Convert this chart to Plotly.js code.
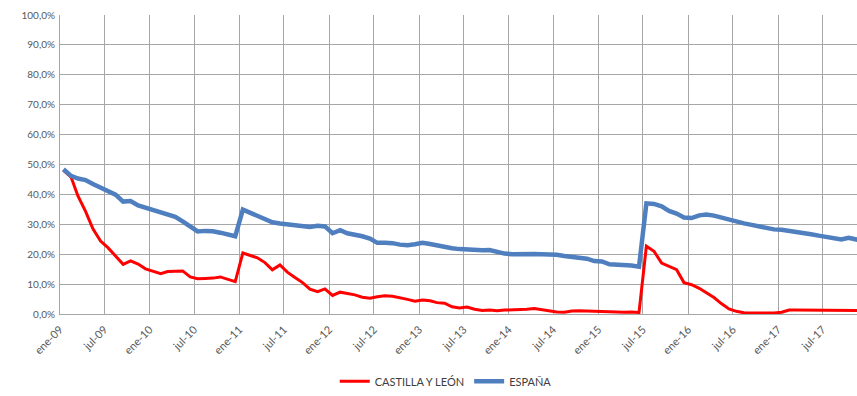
<!DOCTYPE html>
<html>
<head>
<meta charset="utf-8">
<script src="https://cdn.plot.ly/plotly-3.0.1.min.js"></script>
<style>html,body{margin:0;padding:0;background:#fff;}#chart{width:857px;height:396px;}</style>
</head>
<body>
<div id="chart"></div>
<script>
// Monthly observations, ene-09 .. dic-17 (value in %)
const startYear = 2009;
const nMonths = 108;
const months = [];
for (let i = 0; i < nMonths; i++) {
  const y = startYear + Math.floor(i / 12);
  const m = (i % 12) + 1;
  months.push(y + '-' + String(m).padStart(2, '0') + '-15');
}

const castillaLeon = [
  48.0, 45.8, 39.5, 34.3, 28.5, 24.4, 22.2, 19.4, 16.6, 17.8, 16.7, 15.1,
  14.2, 13.5, 14.2, 14.3, 14.4, 12.4, 11.8, 11.9, 12.0, 12.4, 11.7, 10.8,
  20.4, 19.6, 18.8, 17.2, 14.8, 16.4, 14.0, 12.2, 10.5, 8.3, 7.5, 8.4,
  6.2, 7.3, 6.8, 6.4, 5.6, 5.3, 5.8, 6.1, 5.9, 5.5, 4.9, 4.3,
  4.7, 4.4, 3.8, 3.6, 2.4, 2.0, 2.3, 1.6, 1.2, 1.3, 1.1, 1.3,
  1.4, 1.3, 1.6, 1.8, 1.4, 1.0, 0.7, 0.6, 1.0, 1.1, 1.0, 1.0,
  1.0, 0.7, 0.6, 0.6, 0.7, 0.5, 22.7, 21.0, 17.0, 16.0, 14.8, 10.5,
  9.8, 8.6, 7.0, 5.5, 3.5, 1.7, 0.9, 0.4, 0.3, 0.3, 0.3, 0.3,
  0.6, 1.3, 1.3, 1.3, 1.3, 1.3, 1.3, 1.3, 1.2, 1.2, 1.2, 1.2
];

const espana = [
  48.4, 46.2, 45.3, 44.8, 43.5, 42.2, 41.2, 39.9, 37.6, 37.8, 36.3, 35.5,
  34.8, 34.0, 33.2, 32.5, 31.0, 29.2, 27.6, 27.8, 27.7, 27.2, 26.6, 26.0,
  34.9, 33.8, 32.6, 31.6, 30.7, 30.3, 30.0, 29.5, 29.2, 29.1, 29.5, 29.3,
  27.0, 28.0, 27.0, 26.6, 26.0, 25.2, 23.8, 23.8, 23.7, 23.2, 23.0, 23.3,
  23.8, 23.4, 22.9, 22.5, 22.0, 21.7, 21.5, 21.4, 21.3, 21.4, 20.6, 20.2,
  20.0, 20.1, 20.2, 20.1, 20.0, 20.0, 19.8, 19.4, 19.1, 18.8, 18.5, 17.7,
  17.6, 16.6, 16.5, 16.5, 16.2, 15.8, 37.0, 36.8, 36.0, 34.5, 33.6, 32.3,
  32.1, 33.0, 33.3, 32.9, 32.2, 31.4, 30.8, 30.3, 29.8, 29.3, 28.8, 28.3,
  28.2, 27.9, 27.5, 27.1, 26.7, 26.2, 25.7, 25.2, 24.9, 25.5, 24.8, 24.4
];

const tickDates = [];
const tickLabels = [];
const mesAbr = ['ene', 'jul'];
for (let y = 2009; y <= 2017; y++) {
  for (let h = 0; h < 2; h++) {
    tickDates.push(y + (h === 0 ? '-01-01' : '-07-01'));
    tickLabels.push(mesAbr[h] + '-' + String(y % 100).padStart(2, '0'));
  }
}

const yTicks = [0, 10, 20, 30, 40, 50, 60, 70, 80, 90, 100];
const yTickText = ['0,0%', '10,0%', '20,0%', '30,0%', '40,0%', '50,0%', '60,0%', '70,0%', '80,0%', '90,0%', '100,0%'];

const traces = [
  {
    x: months, y: castillaLeon, type: 'scatter', mode: 'lines',
    name: 'CASTILLA Y LEÓN',
    line: {color: '#ff0000', width: 3}
  },
  {
    x: months, y: espana, type: 'scatter', mode: 'lines',
    name: 'ESPAÑA',
    line: {color: '#4f7fbf', width: 4.5}
  }
];

const yTickFont = {family: 'Lato, "Open Sans", sans-serif', size: 10, color: '#595959'};
const xTickFont = {family: 'Lato, "Open Sans", sans-serif', size: 11, color: '#595959'};

const layout = {
  width: 857, height: 396,
  margin: {l: 60, r: 0, t: 15, b: 79},
  paper_bgcolor: '#ffffff',
  plot_bgcolor: '#ffffff',
  showlegend: true,
  legend: {
    orientation: 'h', x: 0.484, xanchor: 'center', y: -0.225, yanchor: 'middle',
    font: {family: 'Lato, "Open Sans", sans-serif', size: 11, color: '#404040'},
    itemwidth: 30, tracegroupgap: 0
  },
  xaxis: {
    type: 'date',
    range: ['2009-01-01', '2017-11-18'],
    tickmode: 'array', tickvals: tickDates, ticktext: tickLabels,
    tickangle: -45, tickfont: xTickFont,
    showgrid: true, gridcolor: '#a6a6a6', gridwidth: 1,
    showline: true, linecolor: '#a6a6a6', linewidth: 1,
    ticks: 'outside', ticklen: 4, tickcolor: 'rgba(0,0,0,0)',
    zeroline: false, fixedrange: true
  },
  yaxis: {
    range: [0, 100],
    tickmode: 'array', tickvals: yTicks, ticktext: yTickText,
    tickfont: yTickFont,
    showgrid: true, gridcolor: '#a6a6a6', gridwidth: 1,
    showline: true, linecolor: '#a6a6a6', linewidth: 1,
    ticks: 'outside', ticklen: 2, tickcolor: 'rgba(0,0,0,0)',
    zeroline: false, fixedrange: true
  }
};

Plotly.newPlot('chart', traces, layout, {displayModeBar: false, staticPlot: true});
</script>
</body>
</html>
